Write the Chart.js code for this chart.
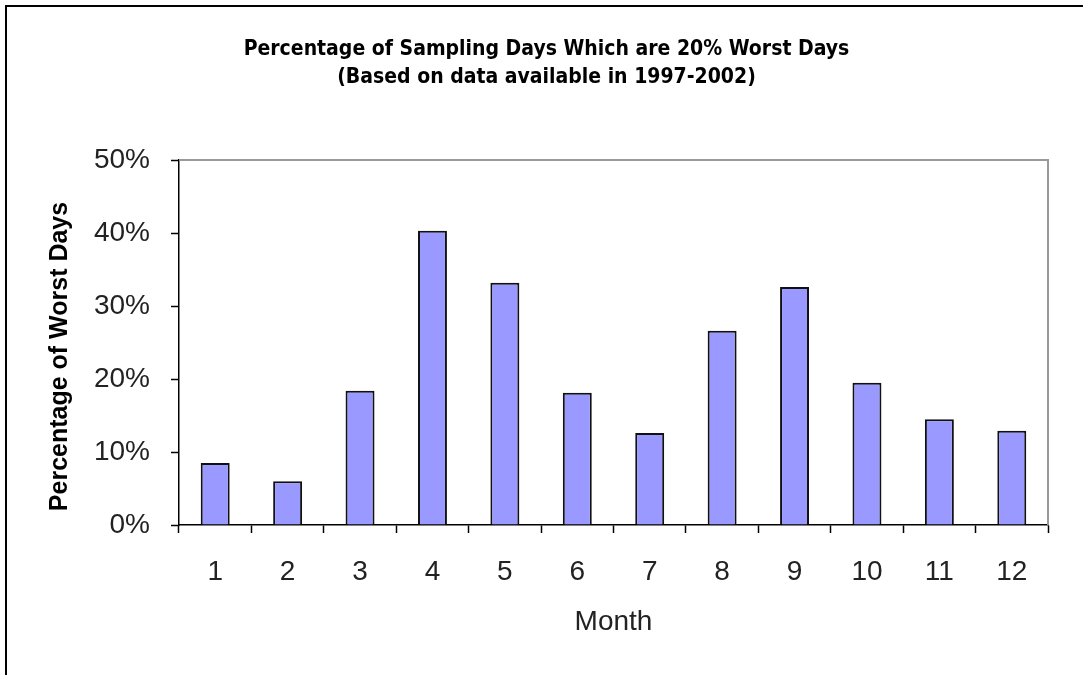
<!DOCTYPE html>
<html>
<head>
<meta charset="utf-8">
<script src="https://cdn.jsdelivr.net/npm/chart.js@4.4.0/dist/chart.umd.min.js"></script>
<style>
  html, body { margin: 0; padding: 0; background: #fff; }
  #wrap { position: relative; width: 1083px; height: 675px; overflow: hidden; }
  #frame { position: absolute; left: 5px; top: 5px; width: 1100px; height: 700px;
           border-top: 2px solid #000; border-left: 2px solid #000; }
  canvas { position: absolute; left: 0; top: 0; }
</style>
</head>
<body>
<div id="wrap">
  <div id="frame"></div>
  <canvas id="chart" width="1083" height="675"></canvas>
</div>
<script>
// dados
const months = ['1', '2', '3', '4', '5', '6', '7', '8', '9', '10', '11', '12'];
const worstPct = [8.5, 6.0, 18.4, 40.3, 33.2, 18.1, 12.6, 26.6, 32.6, 19.5, 14.5, 12.9];
const yTicks = [0, 10, 20, 30, 40, 50];

const titleLines = [
    'Percentage of Sampling Days Which are 20% Worst Days',
    '(Based on data available in 1997-2002)'
];
const yTitle = 'Percentage of Worst Days';

const axisFont = '"Liberation Sans", Arial';

// títulos e moldura cinza (topo e direita da área do gráfico)
const chartDecor = {
    id: 'chartDecor',
    afterDraw(chart) {
        const { ctx, chartArea: a } = chart;
        ctx.save();
        ctx.strokeStyle = '#999';
        ctx.lineWidth = 2;
        ctx.beginPath();
        ctx.moveTo(a.left, a.top);
        ctx.lineTo(a.right, a.top);
        ctx.lineTo(a.right, a.bottom);
        ctx.stroke();

        // título principal, centrado na página
        ctx.fillStyle = '#000';
        ctx.textAlign = 'center';
        ctx.textBaseline = 'middle';
        ctx.font = 'bold 21px "Liberation Sans Narrow", "DejaVu Sans Condensed", "Liberation Sans"';
        titleLines.forEach((line, i) => ctx.fillText(line, chart.width / 2 + 5, 50 + i * 28));

        // título do eixo y
        ctx.translate(60, (a.top + a.bottom) / 2 + 14);
        ctx.rotate(-Math.PI / 2);
        ctx.font = 'bold 25px ' + axisFont;
        ctx.fillText(yTitle, 0, 0);
        ctx.restore();
    }
};

const ctx = document.getElementById('chart');
new Chart(ctx, {
    type: 'bar',
    data: {
        labels: months,
        datasets: [{
            data: worstPct,
            backgroundColor: '#9999FF',
            borderColor: '#111',
            borderWidth: 2,
            barPercentage: 0.4,
            categoryPercentage: 1.0
        }]
    },
    options: {
        responsive: false,
        animation: false,
        layout: { padding: { left: 0, right: 35, top: 160, bottom: 0 } },
        plugins: {
            legend: { display: false },
            tooltip: { enabled: false },
            title: { display: false }
        },
        scales: {
            x: {
                grid: { offset: true, drawOnChartArea: false, color: '#000', tickLength: 8, tickWidth: 1.5 },
                border: { color: '#000', width: 1.5 },
                ticks: { color: '#222', font: { family: axisFont, size: 28 }, padding: 22, maxRotation: 0 },
                title: {
                    display: true, text: 'Month', color: '#222',
                    font: { family: axisFont, size: 28 },
                    padding: { top: 0, bottom: 36 }
                },
                afterFit(scale) { scale.height = 150; }
            },
            y: {
                min: 0,
                max: 50,
                afterBuildTicks(scale) { scale.ticks = yTicks.map(v => ({ value: v })); },
                grid: { drawOnChartArea: false, color: '#000', tickLength: 8, tickWidth: 1.5 },
                border: { color: '#000', width: 1.5 },
                ticks: {
                    color: '#222',
                    font: { family: axisFont, size: 28 },
                    padding: 21,
                    callback: v => v + '%'
                },
                afterFit(scale) { scale.width = 179; }
            }
        }
    },
    plugins: [chartDecor]
});
</script>
</body>
</html>
